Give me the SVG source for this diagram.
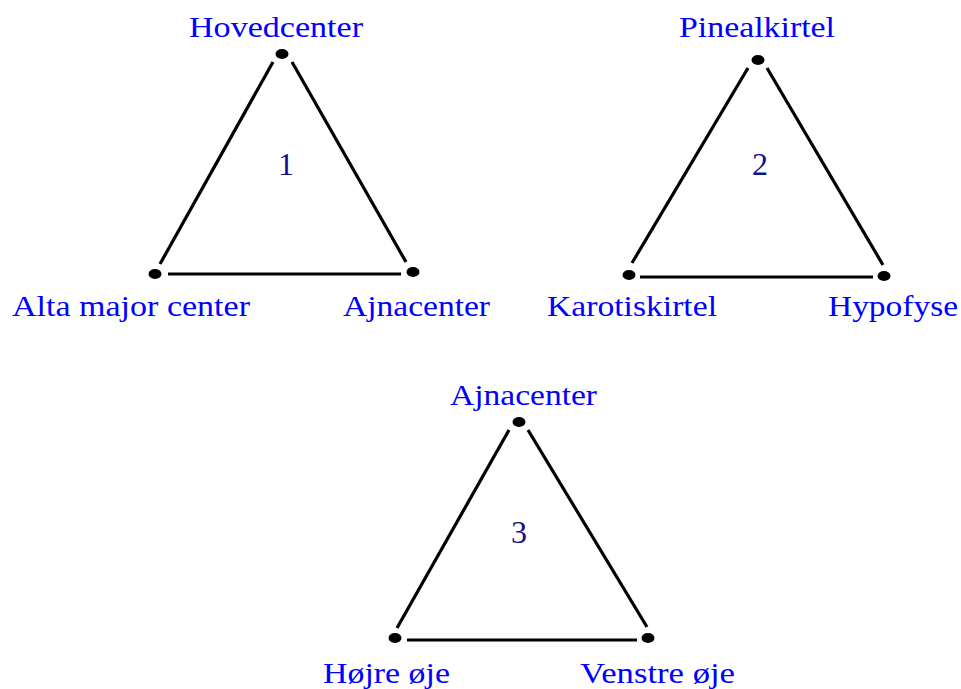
<svg xmlns="http://www.w3.org/2000/svg" width="961" height="689" viewBox="0 0 961 689">
<style>
.lbl{font-family:"Liberation Serif","Times New Roman",serif;font-size:30px;fill:#0000ff}
.num{font-family:"Liberation Serif","Times New Roman",serif;font-size:32px;fill:#10108a;text-anchor:middle}
.edge{stroke:#000;stroke-width:3.2;fill:none}
.dot{fill:#000}
</style>
<rect width="961" height="689" fill="#fff"/>
<g id="connectors">
<line class="edge" x1="273" y1="62" x2="160" y2="264"/>
<line class="edge" x1="292" y1="62" x2="406" y2="262"/>
<line class="edge" x1="168" y1="274" x2="401" y2="274"/>
<line class="edge" x1="748" y1="68" x2="632" y2="263"/>
<line class="edge" x1="767" y1="68" x2="883" y2="265"/>
<line class="edge" x1="640" y1="277" x2="873" y2="277"/>
<line class="edge" x1="509" y1="430" x2="397" y2="628"/>
<line class="edge" x1="528" y1="430" x2="647" y2="627"/>
<line class="edge" x1="407" y1="640" x2="637" y2="640"/>
</g>
<g id="hovedcenter"><ellipse class="dot" cx="282" cy="54" rx="6.5" ry="5"/><text class="lbl" x="189" y="37" textLength="174" lengthAdjust="spacingAndGlyphs">Hovedcenter</text></g>
<g id="alta-major-center"><ellipse class="dot" cx="155" cy="274" rx="6.5" ry="5"/><text class="lbl" x="12" y="316" textLength="238" lengthAdjust="spacingAndGlyphs">Alta major center</text></g>
<g id="ajnacenter-1"><ellipse class="dot" cx="413" cy="272" rx="6.5" ry="5"/><text class="lbl" x="343" y="316" textLength="147" lengthAdjust="spacingAndGlyphs">Ajnacenter</text></g>
<text class="num" x="286" y="175">1</text>
<g id="pinealkirtel"><ellipse class="dot" cx="758" cy="60" rx="6.5" ry="5"/><text class="lbl" x="679" y="37" textLength="156" lengthAdjust="spacingAndGlyphs">Pinealkirtel</text></g>
<g id="karotiskirtel"><ellipse class="dot" cx="629" cy="275" rx="6.5" ry="5"/><text class="lbl" x="547" y="316" textLength="170" lengthAdjust="spacingAndGlyphs">Karotiskirtel</text></g>
<g id="hypofyse"><ellipse class="dot" cx="884" cy="276" rx="6.5" ry="5"/><text class="lbl" x="828" y="316" textLength="130" lengthAdjust="spacingAndGlyphs">Hypofyse</text></g>
<text class="num" x="760" y="175">2</text>
<g id="ajnacenter-3"><ellipse class="dot" cx="519" cy="422" rx="6.5" ry="5"/><text class="lbl" x="450" y="405" textLength="147" lengthAdjust="spacingAndGlyphs">Ajnacenter</text></g>
<g id="hojre-oje"><ellipse class="dot" cx="395" cy="638" rx="6.5" ry="5"/><text class="lbl" x="323" y="683" textLength="127" lengthAdjust="spacingAndGlyphs">Højre øje</text></g>
<g id="venstre-oje"><ellipse class="dot" cx="648" cy="638" rx="6.5" ry="5"/><text class="lbl" x="580" y="683" textLength="155" lengthAdjust="spacingAndGlyphs">Venstre øje</text></g>
<text class="num" x="519" y="543">3</text>
</svg>
